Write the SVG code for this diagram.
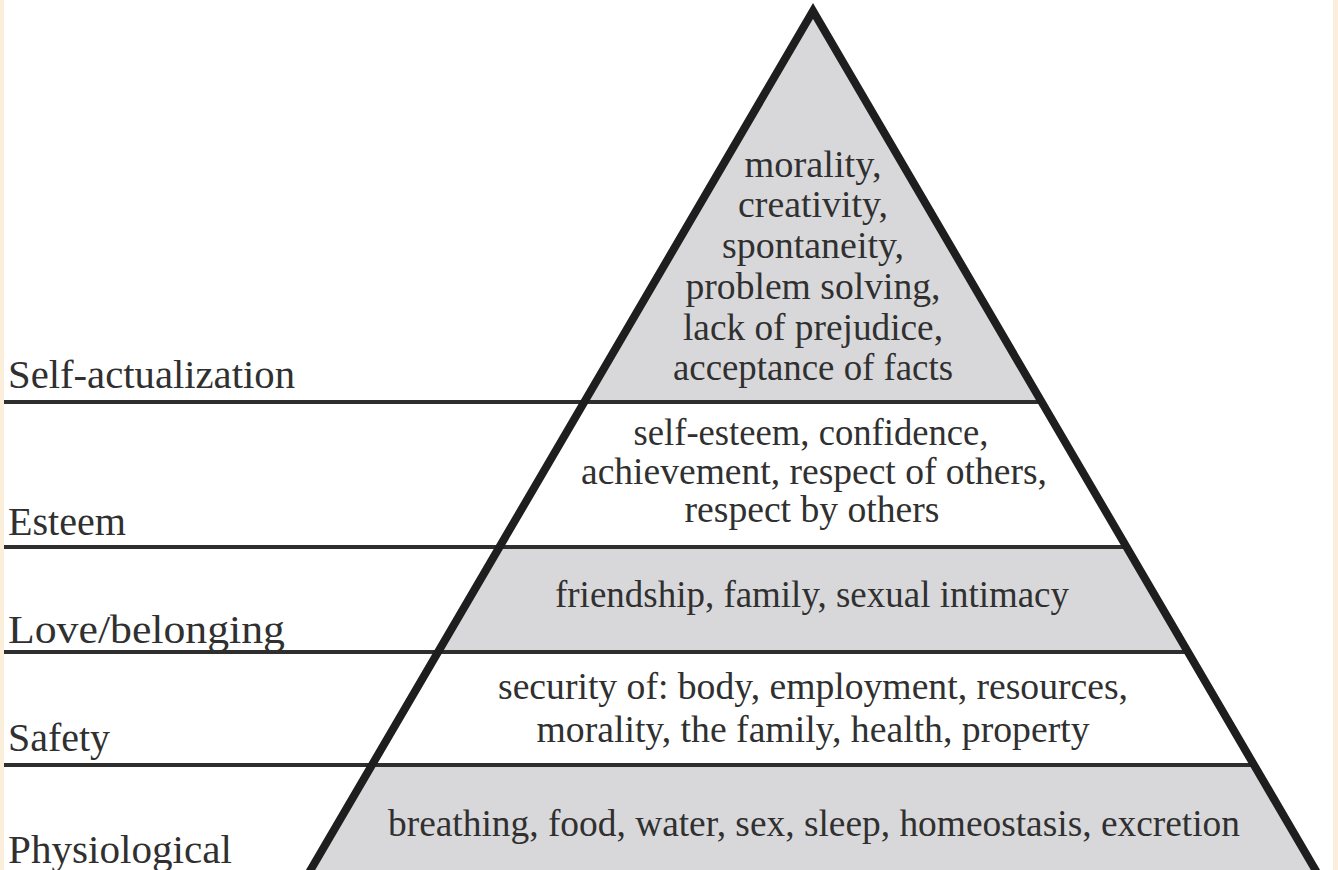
<svg xmlns="http://www.w3.org/2000/svg" width="1338" height="870" viewBox="0 0 1338 870">
<style>
.t{font-family:"Liberation Serif","DejaVu Serif",serif;fill:#303030;font-size:37px}
.c{text-anchor:middle}
.lbl{font-size:39px}
.hl{stroke:#2e2e2e;stroke-width:4;fill:none}
.tri{stroke:#1e1e1e;stroke-width:8;fill:none;stroke-linejoin:miter;stroke-miterlimit:10}
</style>
<rect x="0" y="0" width="1338" height="870" fill="#ffffff"/>
<rect x="0" y="0" width="4" height="870" fill="#fbefdc"/>
<rect x="1333" y="0" width="5" height="870" fill="#fbefdc"/>
<g id="bands">
<polygon points="813,11 1333,900 293,900" fill="#d8d8da"/>
<polygon points="584,402 1042,402 1127,547 499,547" fill="#ffffff"/>
<polygon points="437,652 1188,652 1254,765 372,765" fill="#ffffff"/>
</g>
<g id="connectors">
<line class="hl" x1="4" y1="402" x2="1042" y2="402"/>
<line class="hl" x1="4" y1="547" x2="1127" y2="547"/>
<line class="hl" x1="4" y1="652" x2="1188" y2="652"/>
<line class="hl" x1="4" y1="765" x2="1254" y2="765"/>
</g>
<g id="pyramid">
<polyline class="tri" points="293,900 813,11 1333,900"/>
</g>
<g id="self-actualization">
<text class="t lbl" x="8" y="388" textLength="287" lengthAdjust="spacingAndGlyphs">Self-actualization</text>
<text class="t c" x="813" y="177" textLength="137" lengthAdjust="spacingAndGlyphs">morality,</text>
<text class="t c" x="813" y="217" textLength="150" lengthAdjust="spacingAndGlyphs">creativity,</text>
<text class="t c" x="813" y="258" textLength="182" lengthAdjust="spacingAndGlyphs">spontaneity,</text>
<text class="t c" x="813" y="299" textLength="255" lengthAdjust="spacingAndGlyphs">problem solving,</text>
<text class="t c" x="813" y="340" textLength="260" lengthAdjust="spacingAndGlyphs">lack of prejudice,</text>
<text class="t c" x="813" y="380" textLength="280" lengthAdjust="spacingAndGlyphs">acceptance of facts</text>
</g>
<g id="esteem">
<text class="t lbl" x="8" y="535" textLength="118" lengthAdjust="spacingAndGlyphs">Esteem</text>
<text class="t c" x="811" y="445" textLength="355" lengthAdjust="spacingAndGlyphs">self-esteem, confidence,</text>
<text class="t c" x="814" y="484" textLength="466" lengthAdjust="spacingAndGlyphs">achievement, respect of others,</text>
<text class="t c" x="812" y="522" textLength="255" lengthAdjust="spacingAndGlyphs">respect by others</text>
</g>
<g id="love">
<text class="t lbl" x="8" y="643" textLength="277" lengthAdjust="spacingAndGlyphs">Love/belonging</text>
<text class="t c" x="812" y="607" textLength="514" lengthAdjust="spacingAndGlyphs">friendship, family, sexual intimacy</text>
</g>
<g id="safety">
<text class="t lbl" x="8" y="751" textLength="102" lengthAdjust="spacingAndGlyphs">Safety</text>
<text class="t c" x="813" y="699" textLength="630" lengthAdjust="spacingAndGlyphs">security of: body, employment, resources,</text>
<text class="t c" x="813" y="742" textLength="553" lengthAdjust="spacingAndGlyphs">morality, the family, health, property</text>
</g>
<g id="physiological">
<text class="t lbl" x="8" y="863" textLength="224" lengthAdjust="spacingAndGlyphs">Physiological</text>
<text class="t c" x="814" y="836" textLength="852" lengthAdjust="spacingAndGlyphs">breathing, food, water, sex, sleep, homeostasis, excretion</text>
</g>
</svg>
